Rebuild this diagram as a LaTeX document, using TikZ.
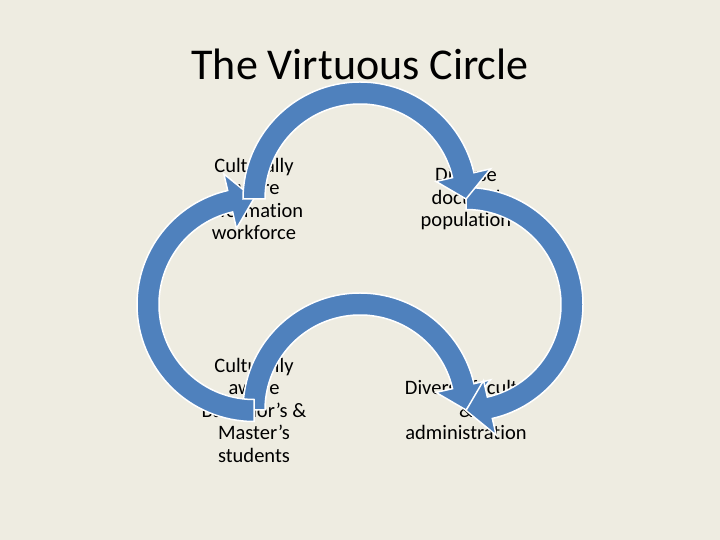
\documentclass[tikz,border=0pt]{standalone}
\usepackage{fontspec}
\setmainfont{Carlito}[Ligatures=NoCommon]
\usetikzlibrary{calc}
\definecolor{cbg}{HTML}{EEECE1}
\definecolor{cblue}{HTML}{4F81BD}
\tikzset{
  every picture/.style={x=1pt, y=1pt},
  stage/.style={font=\fontsize{20.5}{22.5}\selectfont, align=center, inner sep=0pt},
  title/.style={font=\fontsize{44}{50}\selectfont},
  ring/.style={fill=cblue, draw=white, line width=1.5pt, line join=miter},
}
% curved arrow on the circle through two stages: #1 from, #2 to, #3 tail angle, #4 tip angle
\newcommand\ringarrow[4]{%
  \coordinate (mid) at ($(#1.center)!0.5!(#2.center)$);
  \pgfmathsetmacro\headang{#4+13}
  \draw[ring] ($(mid)+(#3:117)$) arc[start angle=#3, end angle=\headang, radius=117]
    -- ($(mid)+(\headang:134)$) -- ($(mid)+(#4:106)$) -- ($(mid)+(\headang:78)$)
    -- ($(mid)+(\headang:95)$) arc[start angle=\headang, end angle=#3, radius=95] -- cycle;
}

\begin{document}
\begin{tikzpicture}
  \path[use as bounding box, fill=cbg] (0,0) rectangle (720,540);
  \node[title, anchor=base] (title) at (360,460) {The Virtuous Circle};
  \node[stage] (tl) at (254,341) {Culturally\\aware\\information\\workforce};
  \node[stage] (tr) at (466,341) {Diverse\\doctoral\\population};
  \node[stage] (bl) at (254,130) {Culturally\\aware\\Bachelor’s \&\\Master’s\\students};
  \node[stage] (br) at (466,130) {Diverse faculty\\\&\\administration};
  % the four arrows, drawn over the text
  \ringarrow{bl}{br}{180}{0}
  \ringarrow{bl}{tl}{270}{90}
  \ringarrow{tr}{br}{90}{-90}
  \ringarrow{tl}{tr}{180}{0}
\end{tikzpicture}
\end{document}
